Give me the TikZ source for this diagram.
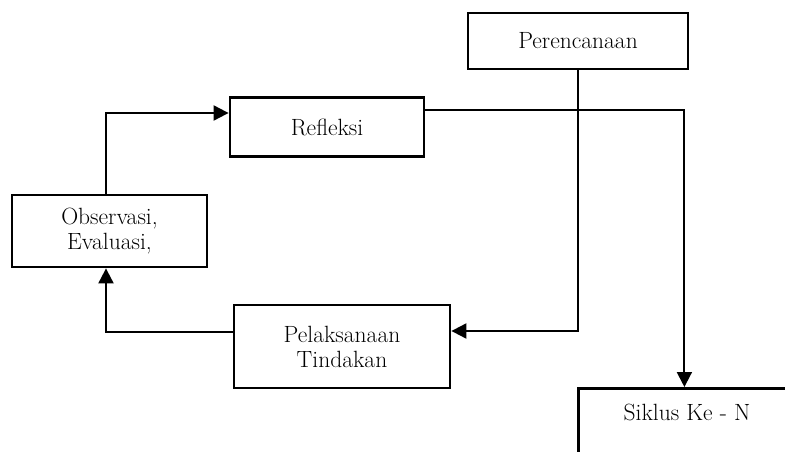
\documentclass[tikz,border=0pt]{standalone}
\usepackage{tikz}
\usetikzlibrary{arrows.meta}
\newcommand{\lwBox}{2.8pt}
\newcommand{\lwLine}{2pt}
\newcommand{\boxfont}{\fontsize{23.5}{25}\selectfont}
\tikzset{
  stepbox/.style={draw, line width=\lwBox, inner sep=0pt, align=center,
    font=\boxfont},
  flow/.style={line width=\lwLine, -{Triangle[length=15pt,width=15pt]}},
}

\begin{document}
\begin{tikzpicture}[x=1pt,y=-1pt]
    \useasboundingbox (0,0) rectangle (785,452);
    \clip (0,0) rectangle (785,452);
    % --- --- --- Boxes
    \node[stepbox, minimum width=220pt, minimum height=56pt] (plan) at (578,41) {Perencanaan};
    \node[stepbox, minimum width=194pt, minimum height=59pt] (refl) at (327,127) {Refleksi};
    \node[stepbox, minimum width=195pt, minimum height=72pt] (obs) at (109.5,231) {Observasi,\\Evaluasi,};
    \node[stepbox, minimum width=216pt, minimum height=83pt] (pel) at (342,346.5) {Pelaksanaan\\Tindakan};
    % --- --- --- Open box at the corner
    \node[stepbox, anchor=north west, minimum width=212pt, minimum height=120pt] (siklus) at (577,387) {};
    \node[font=\boxfont] (sikluslbl) at (687,412) {Siklus Ke - N};
    % === === === Connectors
    \draw[flow] ([xshift=-3.5pt]obs.north) |- ([yshift=14pt]refl.west);
    \draw[flow] ([yshift=17pt]refl.east) -| (siklus.north);
    \draw[flow] (plan.south) |- ([yshift=15.5pt]pel.east);
    \draw[flow] ([yshift=14.5pt]pel.west) -| ([xshift=-3.5pt]obs.south);
\end{tikzpicture}
\end{document}
